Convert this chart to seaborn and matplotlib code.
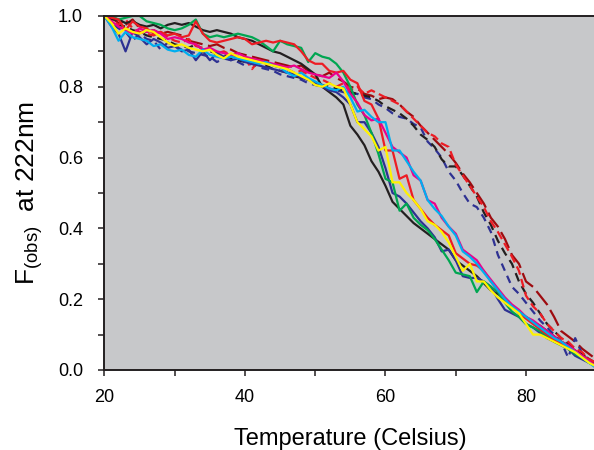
import pandas as pd
import seaborn as sns
from matplotlib import pyplot as plt
from matplotlib.ticker import MultipleLocator

# temperature grid (Celsius)
temps = list(range(20, 91))

# F(obs) at 222nm, one list per trace, 20..90 C
black_solid = [1.00, 0.99, 0.99, 0.98, 0.985, 0.975, 0.97, 0.975, 0.965, 0.975,
               0.98, 0.975, 0.98, 0.97, 0.96, 0.955, 0.96, 0.955, 0.95, 0.94,
               0.935, 0.93, 0.92, 0.91, 0.90, 0.895, 0.885, 0.875, 0.865, 0.85,
               0.835, 0.80, 0.785, 0.77, 0.75, 0.69, 0.665, 0.635, 0.59, 0.56,
               0.52, 0.475, 0.455, 0.435, 0.415, 0.40, 0.385, 0.37, 0.355, 0.34,
               0.31, 0.295, 0.28, 0.265, 0.245, 0.225, 0.215, 0.20, 0.18, 0.165,
               0.15, 0.135, 0.125, 0.11, 0.095, 0.08, 0.07, 0.055, 0.04, 0.03,
               0.015]
green_solid = [1.00, 1.00, 0.99, 0.995, 1.00, 1.00, 0.985, 0.98, 0.975, 0.965,
               0.96, 0.965, 0.975, 0.99, 0.95, 0.94, 0.945, 0.94, 0.945, 0.95,
               0.945, 0.94, 0.93, 0.915, 0.90, 0.93, 0.92, 0.915, 0.91, 0.87,
               0.895, 0.885, 0.88, 0.865, 0.84, 0.80, 0.75, 0.72, 0.67, 0.61,
               0.54, 0.53, 0.45, 0.47, 0.43, 0.41, 0.395, 0.37, 0.34, 0.31,
               0.275, 0.27, 0.265, 0.22, 0.25, 0.235, 0.22, 0.19, 0.165, 0.15,
               0.13, 0.12, 0.11, 0.095, 0.08, 0.07, 0.06, 0.045, 0.035, 0.02,
               0.01]
red_solid = [1.00, 0.995, 0.99, 0.96, 0.985, 0.97, 0.965, 0.95, 0.955, 0.945,
             0.95, 0.94, 0.945, 0.985, 0.95, 0.93, 0.925, 0.93, 0.935, 0.94,
             0.935, 0.92, 0.925, 0.93, 0.925, 0.93, 0.925, 0.92, 0.90, 0.875,
             0.865, 0.865, 0.845, 0.84, 0.845, 0.82, 0.81, 0.76, 0.75, 0.71,
             0.62, 0.62, 0.54, 0.55, 0.48, 0.455, 0.43, 0.41, 0.395, 0.38,
             0.33, 0.315, 0.30, 0.295, 0.28, 0.25, 0.225, 0.20, 0.18, 0.16,
             0.145, 0.13, 0.115, 0.10, 0.085, 0.075, 0.065, 0.05, 0.04, 0.03,
             0.02]
yellow_solid = [1.00, 0.98, 0.95, 0.965, 0.955, 0.95, 0.96, 0.955, 0.94, 0.925,
                0.915, 0.92, 0.91, 0.905, 0.90, 0.905, 0.89, 0.88, 0.895, 0.885,
                0.88, 0.875, 0.87, 0.865, 0.86, 0.855, 0.85, 0.84, 0.83, 0.82,
                0.805, 0.80, 0.81, 0.80, 0.795, 0.75, 0.70, 0.68, 0.66, 0.62,
                0.63, 0.53, 0.53, 0.50, 0.48, 0.455, 0.42, 0.41, 0.39, 0.36,
                0.32, 0.28, 0.30, 0.25, 0.25, 0.225, 0.205, 0.19, 0.175, 0.16,
                0.13, 0.10, 0.10, 0.09, 0.08, 0.07, 0.06, 0.05, 0.035, 0.02,
                0.01]
magenta_solid = [1.00, 0.985, 0.97, 0.96, 0.95, 0.965, 0.955, 0.96, 0.95, 0.935,
                 0.94, 0.935, 0.925, 0.92, 0.905, 0.91, 0.90, 0.895, 0.89, 0.895,
                 0.885, 0.88, 0.875, 0.87, 0.865, 0.86, 0.855, 0.86, 0.85, 0.84,
                 0.835, 0.83, 0.825, 0.84, 0.815, 0.78, 0.755, 0.72, 0.705, 0.71,
                 0.67, 0.63, 0.615, 0.60, 0.55, 0.535, 0.48, 0.47, 0.43, 0.405,
                 0.385, 0.34, 0.325, 0.31, 0.28, 0.255, 0.23, 0.205, 0.185, 0.17,
                 0.15, 0.14, 0.125, 0.11, 0.095, 0.08, 0.07, 0.055, 0.04, 0.025,
                 0.01]
cyan_solid = [1.00, 0.97, 0.93, 0.955, 0.94, 0.935, 0.93, 0.915, 0.92, 0.905,
              0.90, 0.905, 0.89, 0.885, 0.905, 0.89, 0.885, 0.88, 0.885, 0.88,
              0.875, 0.87, 0.865, 0.87, 0.86, 0.855, 0.84, 0.83, 0.84, 0.825,
              0.815, 0.805, 0.795, 0.79, 0.80, 0.77, 0.73, 0.735, 0.715, 0.70,
              0.70, 0.62, 0.62, 0.59, 0.56, 0.535, 0.48, 0.455, 0.435, 0.405,
              0.38, 0.335, 0.32, 0.30, 0.275, 0.25, 0.225, 0.20, 0.18, 0.165,
              0.15, 0.135, 0.12, 0.105, 0.09, 0.08, 0.065, 0.05, 0.035, 0.02,
              0.005]
navy_solid = [1.00, 0.97, 0.95, 0.90, 0.955, 0.94, 0.92, 0.935, 0.925, 0.91,
              0.915, 0.90, 0.905, 0.875, 0.90, 0.875, 0.895, 0.885, 0.875, 0.88,
              0.87, 0.865, 0.86, 0.855, 0.85, 0.845, 0.84, 0.835, 0.825, 0.82,
              0.81, 0.80, 0.79, 0.785, 0.77, 0.75, 0.70, 0.70, 0.67, 0.63,
              0.57, 0.50, 0.49, 0.47, 0.445, 0.42, 0.40, 0.375, 0.335, 0.34,
              0.31, 0.265, 0.26, 0.26, 0.25, 0.235, 0.20, 0.17, 0.16, 0.15,
              0.13, 0.12, 0.105, 0.09, 0.08, 0.07, 0.06, 0.04, 0.03, 0.02,
              0.01]
darkred_dash = [1.00, 0.995, 0.98, 0.975, 0.99, 0.965, 0.955, 0.96, 0.95, 0.955,
                0.95, 0.945, 0.93, 0.925, 0.92, 0.915, 0.92, 0.91, 0.905, 0.895,
                0.89, 0.885, 0.88, 0.875, 0.87, 0.865, 0.86, 0.855, 0.86, 0.845,
                0.835, 0.83, 0.84, 0.825, 0.815, 0.80, 0.795, 0.78, 0.775, 0.765,
                0.77, 0.765, 0.75, 0.73, 0.715, 0.69, 0.67, 0.65, 0.63, 0.61,
                0.585, 0.555, 0.53, 0.50, 0.47, 0.43, 0.405, 0.37, 0.325, 0.30,
                0.25, 0.235, 0.21, 0.185, 0.15, 0.11, 0.095, 0.08, 0.06, 0.045,
                0.03]
red_dash = [1.00, 0.99, 0.975, 0.99, 0.965, 0.955, 0.95, 0.945, 0.955, 0.94,
            0.93, 0.925, 0.935, 0.915, 0.91, 0.905, 0.895, 0.90, 0.89, 0.885,
            0.88, 0.85, 0.875, 0.865, 0.86, 0.855, 0.85, 0.84, 0.845, 0.835,
            0.825, 0.82, 0.81, 0.80, 0.81, 0.79, 0.80, 0.78, 0.79, 0.78,
            0.77, 0.76, 0.75, 0.73, 0.71, 0.69, 0.67, 0.66, 0.64, 0.63,
            0.58, 0.55, 0.52, 0.49, 0.46, 0.42, 0.39, 0.355, 0.32, 0.28,
            0.21, 0.18, 0.16, 0.13, 0.11, 0.09, 0.08, 0.06, 0.05, 0.03,
            0.02]
navy_dash = [1.00, 0.98, 0.965, 0.955, 0.93, 0.95, 0.935, 0.93, 0.905, 0.925,
             0.915, 0.905, 0.90, 0.895, 0.89, 0.885, 0.87, 0.88, 0.875, 0.87,
             0.86, 0.865, 0.855, 0.85, 0.845, 0.835, 0.83, 0.825, 0.82, 0.81,
             0.805, 0.80, 0.795, 0.79, 0.785, 0.78, 0.78, 0.77, 0.765, 0.75,
             0.74, 0.725, 0.715, 0.71, 0.695, 0.685, 0.645, 0.625, 0.60, 0.56,
             0.535, 0.50, 0.47, 0.46, 0.43, 0.39, 0.325, 0.28, 0.235, 0.215,
             0.19, 0.165, 0.14, 0.12, 0.10, 0.08, 0.035, 0.09, 0.045, 0.03,
             0.02]
black_dash = [1.00, 0.985, 0.975, 0.97, 0.96, 0.955, 0.945, 0.94, 0.935, 0.93,
              0.92, 0.915, 0.91, 0.92, 0.905, 0.90, 0.895, 0.89, 0.88, 0.875,
              0.87, 0.875, 0.865, 0.86, 0.85, 0.845, 0.84, 0.83, 0.825, 0.82,
              0.815, 0.805, 0.80, 0.795, 0.79, 0.785, 0.78, 0.775, 0.77, 0.76,
              0.745, 0.735, 0.725, 0.71, 0.69, 0.665, 0.65, 0.63, 0.595, 0.575,
              0.575, 0.55, 0.52, 0.49, 0.445, 0.41, 0.365, 0.33, 0.30, 0.25,
              0.215, 0.19, 0.16, 0.13, 0.11, 0.09, 0.075, 0.06, 0.045, 0.03,
              0.015]

traces = {
    'darkred_dash': darkred_dash,
    'navy_dash': navy_dash,
    'black_dash': black_dash,
    'red_dash': red_dash,
    'black': black_solid,
    'navy': navy_solid,
    'green': green_solid,
    'red': red_solid,
    'magenta': magenta_solid,
    'cyan': cyan_solid,
    'yellow': yellow_solid,
}

palette = {
    'darkred_dash': '#9e0b0f', 'navy_dash': '#2e3192', 'black_dash': '#231f20',
    'red_dash': '#ed1c24', 'black': '#231f20', 'navy': '#2e3192',
    'green': '#00a651', 'red': '#ed1c24', 'magenta': '#ec008c',
    'cyan': '#00aeef', 'yellow': '#fff200',
}
dashes = {k: '' for k in traces}
dashes['darkred_dash'] = (8, 2.5)
dashes['navy_dash'] = (3.5, 2.5)
dashes['black_dash'] = (4, 2.5)
dashes['red_dash'] = (4, 2)

df = pd.concat([pd.DataFrame({'Temperature': temps, 'F': v, 'trace': k})
                for k, v in traces.items()], ignore_index=True)

plt.rcParams['font.family'] = ['Liberation Sans', 'DejaVu Sans']
plt.rcParams['mathtext.fontset'] = 'custom'
plt.rcParams['mathtext.rm'] = 'Liberation Sans'

fig = plt.figure(figsize=(5.94, 4.5), dpi=100)
ax = fig.add_axes([0.1759, 0.1778, 0.8279, 0.7867])
ax.set_facecolor('#c7c8ca')

order = list(traces.keys())
sns.lineplot(data=df, x='Temperature', y='F', hue='trace', style='trace',
             hue_order=order, style_order=order, palette=palette,
             dashes=dashes, estimator=None, sort=False, linewidth=1.6,
             legend=False, ax=ax)

ax.set_xlim(20, 90)
ax.set_ylim(0, 1.0)
ax.xaxis.set_major_locator(MultipleLocator(20))
ax.xaxis.set_minor_locator(MultipleLocator(10))
ax.yaxis.set_major_locator(MultipleLocator(0.2))
ax.yaxis.set_minor_locator(MultipleLocator(0.1))
ax.set_yticks([0, 0.2, 0.4, 0.6, 0.8, 1.0])
ax.set_yticklabels(['0.0', '0.2', '0.4', '0.6', '0.8', '1.0'])
ax.tick_params(which='both', direction='out', length=4, width=1.1,
               labelsize=13, color='#231f20')
ax.tick_params(axis='x', which='major', pad=9.5)
ax.tick_params(axis='y', which='major', pad=11.5)
ax.spines['right'].set_visible(False)
for s in ['top', 'left', 'bottom']:
    ax.spines[s].set_linewidth(1.4)
    ax.spines[s].set_color('#231f20')

ax.set_xlabel('Temperature (Celsius)', fontsize=17, labelpad=16)
ax.set_ylabel(r'F$_{\mathregular{(obs)}}$  at 222nm', fontsize=19, labelpad=9)

fig.savefig('out.png', dpi=100)
